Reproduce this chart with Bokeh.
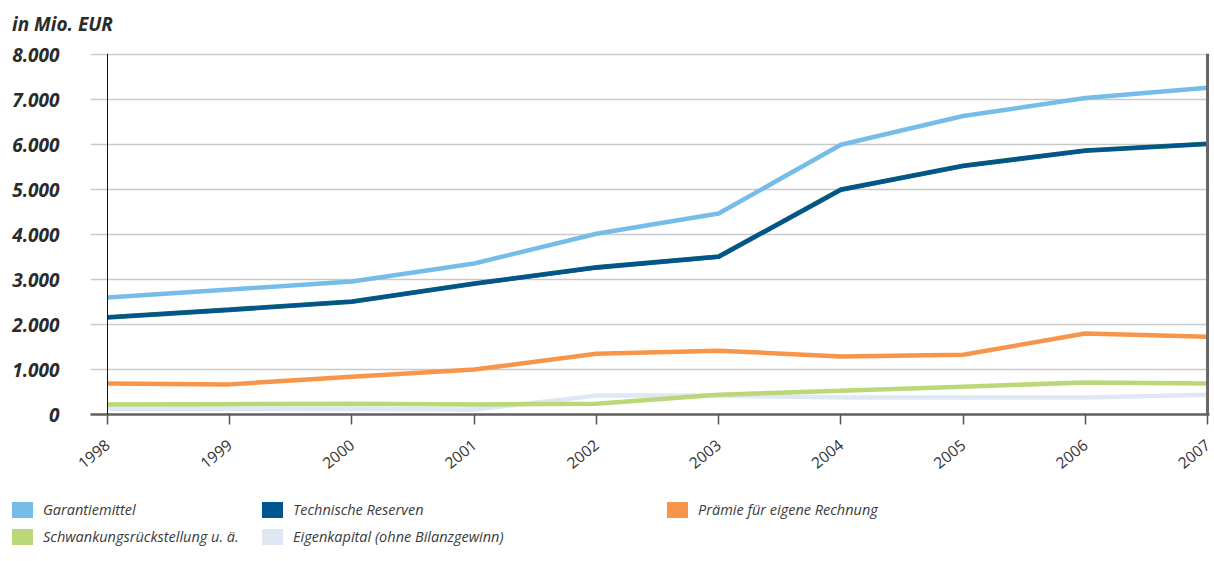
from bokeh.plotting import figure
from bokeh.models import ColumnDataSource, Range1d, FixedTicker, Span, Div
from bokeh.layouts import column
from bokeh.embed import file_html
from bokeh.resources import INLINE

years = [1998, 1999, 2000, 2001, 2002, 2003, 2004, 2005, 2006, 2007]
garantiemittel = [2600, 2780, 2960, 3360, 4020, 4470, 6000, 6640, 7040, 7270]
technische_reserven = [2160, 2330, 2510, 2910, 3270, 3510, 5000, 5530, 5870, 6020]
praemie = [690, 670, 840, 1000, 1350, 1420, 1290, 1330, 1800, 1730]
schwankung = [220, 230, 240, 220, 240, 440, 530, 620, 710, 690]
eigenkapital = [130, 130, 120, 110, 420, 420, 380, 380, 380, 440]

y_ticks = [0, 1000, 2000, 3000, 4000, 5000, 6000, 7000, 8000]
y_labels = ["0", "1.000", "2.000", "3.000", "4.000", "5.000", "6.000", "7.000", "8.000"]
x_labels = [str(y) for y in years]
unit_title = "in Mio. EUR"

series_names = ["Garantiemittel", "Technische Reserven", "Prämie für eigene Rechnung",
                "Schwankungsrückstellung u. ä.", "Eigenkapital (ohne Bilanzgewinn)"]
colors = {"Garantiemittel": "#75bde8",
          "Technische Reserven": "#00558f",
          "Prämie für eigene Rechnung": "#f7964a",
          "Schwankungsrückstellung u. ä.": "#bad878",
          "Eigenkapital (ohne Bilanzgewinn)": "#dfe7f5"}
# legend grid: (column x in px, row index)
legend_slots = {"Garantiemittel": (12, 0), "Technische Reserven": (262, 0),
                "Prämie für eigene Rechnung": (667, 0),
                "Schwankungsrückstellung u. ä.": (12, 1),
                "Eigenkapital (ohne Bilanzgewinn)": (262, 1)}

src = ColumnDataSource(dict(year=years, g=garantiemittel, t=technische_reserven,
                            p=praemie, s=schwankung, e=eigenkapital))

W = 1214
TITLE_H = 40
MAIN_H = 450
p = figure(width=W, height=MAIN_H, output_backend="svg", toolbar_location=None,
           x_range=Range1d(1997.861, 2007.016), y_range=Range1d(0, 8030),
           min_border_left=90, min_border_right=5, min_border_top=13,
           min_border_bottom=MAIN_H - 13 - 361)
p.outline_line_color = None

p.xgrid.grid_line_color = None
p.ygrid.ticker = FixedTicker(ticks=y_ticks)
p.ygrid.grid_line_color = "#c9c9c9"
p.ygrid.grid_line_width = 1.5

p.yaxis.ticker = FixedTicker(ticks=y_ticks)
p.yaxis.major_label_overrides = {t: l for t, l in zip(y_ticks, y_labels)}
p.yaxis.axis_line_color = None
p.yaxis.major_tick_line_color = None
p.yaxis.minor_tick_line_color = None
p.yaxis.major_label_standoff = 25
p.yaxis.major_label_text_font = "Open Sans"
p.yaxis.major_label_text_font_style = "bold italic"
p.yaxis.major_label_text_font_size = "19px"
p.yaxis.major_label_text_color = "#2b2b2b"

p.xaxis.ticker = FixedTicker(ticks=years)
p.xaxis.major_label_overrides = {y: l for y, l in zip(years, x_labels)}
p.xaxis.axis_line_color = "#5f5f5f"
p.xaxis.axis_line_width = 2.5
p.xaxis.major_tick_line_color = "#555555"
p.xaxis.major_tick_line_width = 1.5
p.xaxis.major_tick_out = 10
p.xaxis.major_tick_in = 0
p.xaxis.minor_tick_line_color = None
p.xaxis.major_label_orientation = 0.68
p.xaxis.major_label_standoff = 18
p.xaxis.major_label_text_font = "Open Sans"
p.xaxis.major_label_text_font_size = "15.5px"
p.xaxis.major_label_text_color = "#333333"

p.add_layout(Span(location=1998, dimension="height", line_color="#111111", line_width=1))
p.add_layout(Span(location=2007, dimension="height", line_color="#666666", line_width=3))

lw = 4.5
p.line("year", "e", source=src, line_color=colors["Eigenkapital (ohne Bilanzgewinn)"], line_width=lw)
p.line("year", "s", source=src, line_color=colors["Schwankungsrückstellung u. ä."], line_width=lw)
p.line("year", "p", source=src, line_color=colors["Prämie für eigene Rechnung"], line_width=lw)
p.line("year", "t", source=src, line_color="#1d6e55", line_width=lw + 0.3)
p.line("year", "t", source=src, line_color="#00558f", line_width=lw - 0.6)
p.line("year", "g", source=src, line_color=colors["Garantiemittel"], line_width=lw)

# unit title as HTML block above the chart
title_html = ('<div style="position:relative;width:1212px;height:40px;">'
              '<div style="position:absolute;left:12px;top:11px;line-height:26px;'
              'font-family:\'Open Sans\';font-style:italic;font-weight:bold;font-size:19px;'
              f'color:#2b2b2b;white-space:nowrap">{unit_title}</div></div>')
title_div = Div(text=title_html, width=1212, height=TITLE_H, margin=(0, 0, 0, 0))

# legend as HTML block
parts = []
for n in series_names:
    x, r = legend_slots[n]
    top = 12 + 27 * r
    parts.append(
        f'<div style="position:absolute;left:{x}px;top:{top}px;width:21px;height:16px;'
        f'background:{colors[n]}"></div>'
        f'<div style="position:absolute;left:{x + 31}px;top:{top}px;line-height:16px;'
        f'white-space:nowrap">{n}</div>')
legend_html = ('<div style="position:relative;width:1212px;height:60px;'
               'font-family:\'Open Sans\';font-style:italic;font-size:14.5px;color:#3a3a3a">'
               + "".join(parts) + "</div>")
leg = Div(text=legend_html, width=1212, height=60, margin=(0, 0, 0, 0))

layout = column(title_div, p, leg, spacing=0)
open("out.html", "w").write(file_html(layout, INLINE))
